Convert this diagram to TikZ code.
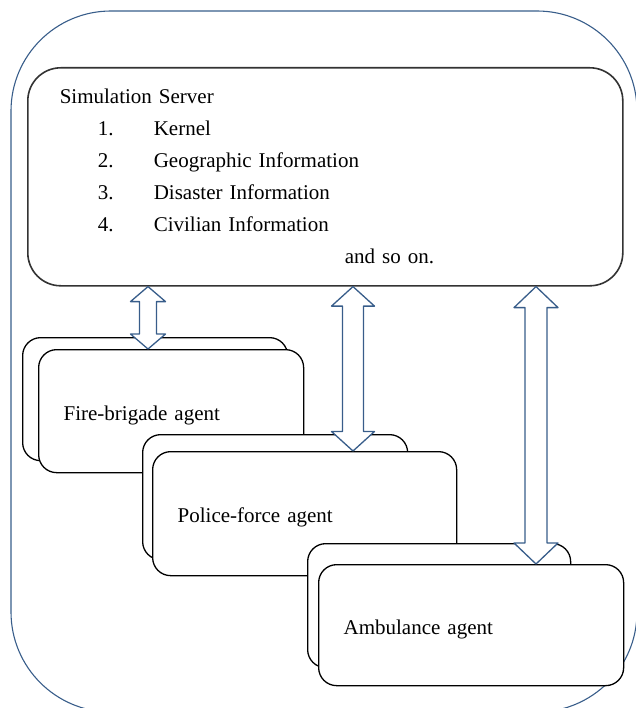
\documentclass[tikz,border=0pt]{standalone}
\usepackage{fontspec}
\setmainfont{Liberation Serif}
\usetikzlibrary{calc}
\definecolor{linkblue}{HTML}{385D8A}
\newcommand{\twoway}[5]{%
  \draw[link] (#1) -- ($(#1)+(#3,#5)$) -- ($(#1)+(#4,#5)$) -- ($(#2)+(#4,-#5)$) -- ($(#2)+(#3,-#5)$) -- (#2)
    -- ($(#2)+(-#3,-#5)$) -- ($(#2)+(-#4,-#5)$) -- ($(#1)+(-#4,#5)$) -- ($(#1)+(-#3,#5)$) -- cycle;}
\begin{document}
\begin{tikzpicture}[x=1pt, y=-1pt, line join=round,
    every node/.style={font=\fontsize{21}{32}\selectfont},
    serverbox/.style={draw=black!80, line width=1.6pt, fill=white, rounded corners=33pt, anchor=north west,
      minimum height=218pt, text width=531pt, inner xsep=32pt, align=left},
    agentbox/.style={draw=black, line width=1.3pt, fill=white, rounded corners=18pt, anchor=north west,
      inner xsep=25pt, inner ysep=0pt, align=left, text height=18pt, text depth=0pt},
    link/.style={draw=linkblue, line width=1.3pt, fill=white}]
  \useasboundingbox (0,0) rectangle (635,708);
  \draw[linkblue, line width=1.1pt, rounded corners=100pt] (11,11) rectangle (637,712);
  \node[serverbox] (server) at (27,67) {Simulation Server\\
    \hspace*{38pt}\makebox[56pt][l]{1.}Kernel\\
    \hspace*{38pt}\makebox[56pt][l]{2.}Geographic Information\\
    \hspace*{38pt}\makebox[56pt][l]{3.}Disaster Information\\
    \hspace*{38pt}\makebox[56pt][l]{4.}Civilian Information\\
    \hspace*{285pt}and so on.};
  \node[agentbox, minimum width=265pt, minimum height=123pt] (fireback) at (22,337) {};
  \node[agentbox, text width=215pt, minimum height=123pt] (firefront) at (38,349) {Fire-brigade agent};
  \node[agentbox, minimum width=265pt, minimum height=125pt] (policeback) at (142,434) {};
  \node[agentbox, text width=254pt, minimum height=124pt] (policefront) at (152,451) {Police-force agent};
  \node[agentbox, minimum width=263pt, minimum height=124pt] (ambback) at (307,543) {};
  \node[agentbox, text width=255pt, minimum height=121pt] (ambfront) at (318,564) {Ambulance agent};
  \path (148,0) coordinate (x1) (353,0) coordinate (x2) (536,0) coordinate (x3);
  \twoway{server.south -| x1}{firefront.north -| x1}{17.5}{8.5}{15}
  \twoway{server.south -| x2}{policefront.north -| x2}{21.5}{10.5}{19.5}
  \twoway{server.south -| x3}{ambfront.north -| x3}{22}{11}{21}
\end{tikzpicture}
\end{document}
